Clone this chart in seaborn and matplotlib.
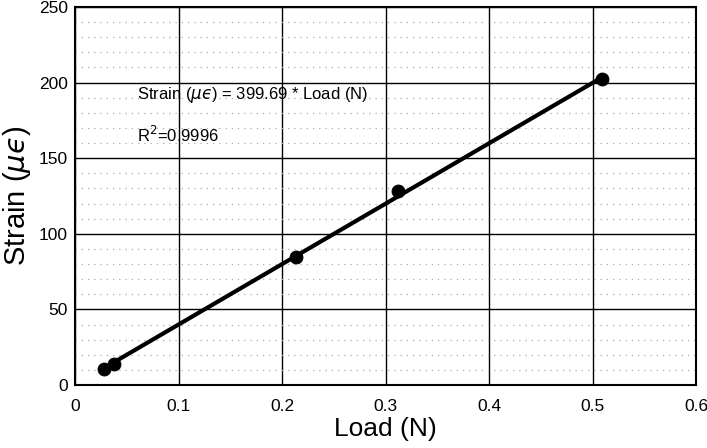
import matplotlib
matplotlib.use("Agg")
import matplotlib.pyplot as plt
import seaborn as sns
import pandas as pd
from matplotlib.ticker import MultipleLocator

# Data
load_n = [0.028, 0.038, 0.214, 0.312, 0.509]
strain_ue = [10.5, 14.0, 84.5, 128.0, 202.5]
fit_load = [0.038, 0.509]
fit_strain = [15.2, 203.4]
x_ticks = [0, 0.1, 0.2, 0.3, 0.4, 0.5, 0.6]
x_tick_labels = ["0", "0.1", "0.2", "0.3", "0.4", "0.5", "0.6"]
y_ticks = [0, 50, 100, 150, 200, 250]

sns.set_style("white")
plt.rcParams['font.family'] = ['Liberation Sans', 'DejaVu Sans']
plt.rcParams['mathtext.fontset'] = 'dejavusans'
plt.rcParams['text.color'] = 'black'
plt.rcParams['axes.labelcolor'] = 'black'
plt.rcParams['xtick.color'] = 'black'
plt.rcParams['ytick.color'] = 'black'

fig = plt.figure(figsize=(7.07, 4.48), dpi=100)
ax = fig.add_axes([75/707, (448-385)/448, (696-75)/707, (385-7)/448])

pts = pd.DataFrame({"load": load_n, "strain": strain_ue})
fit = pd.DataFrame({"load": fit_load, "strain": fit_strain})

sns.lineplot(data=fit, x="load", y="strain", ax=ax, color="black", linewidth=3, zorder=3)
sns.scatterplot(data=pts, x="load", y="strain", ax=ax, color="black", s=85, edgecolor="black", zorder=4)

ax.set_xlim(0, 0.6)
ax.set_ylim(0, 250)
ax.set_xticks(x_ticks)
ax.set_xticklabels(x_tick_labels)
ax.set_yticks(y_ticks)
ax.yaxis.set_minor_locator(MultipleLocator(10))
ax.grid(which="major", color="black", linewidth=1.0)
ax.grid(which="minor", axis="y", color="#aaaaaa", linestyle=(0, (1, 4)), linewidth=0.9)
ax.set_axisbelow(True)
ax.tick_params(axis="both", which="both", length=0, labelsize=12.5, colors="black")
ax.tick_params(axis="x", pad=10)
ax.tick_params(axis="y", pad=5)

for sp in ax.spines.values():
    sp.set_color("black")
    sp.set_linewidth(1.5)

mu_eps = "$\\mu\u03f5$"
ax.set_xlabel("Load (N)", fontsize=19, labelpad=2)
ax.set_ylabel("Strain (" + mu_eps + ")", fontsize=21)
ax.yaxis.set_label_coords(-42/621, 0.5)

ax.text(0.06, 192, "Strain (" + mu_eps + ") = 399.69 * Load (N)", fontsize=12, va="center", ha="left")
ax.text(0.06, 165.5, r"R$^2$=0.9996", fontsize=12, va="center", ha="left")

fig.savefig("out.png", dpi=100)
